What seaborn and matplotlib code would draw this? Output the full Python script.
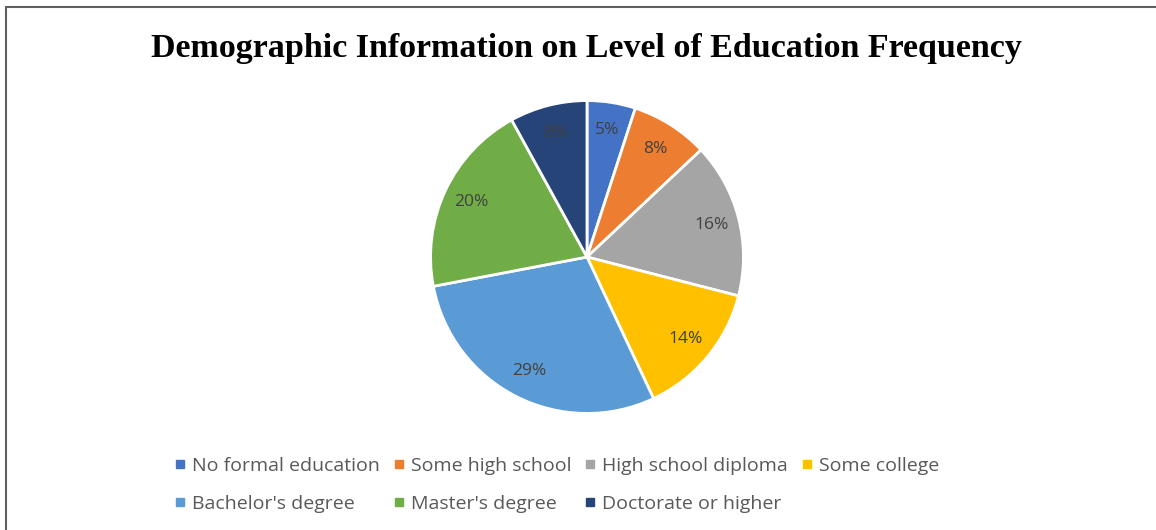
import matplotlib
matplotlib.use("Agg")
import matplotlib.pyplot as plt
from matplotlib.lines import Line2D
import seaborn as sns

# DATA
categories = ["No formal education", "Some high school", "High school diploma",
              "Some college", "Bachelor's degree", "Master's degree",
              "Doctorate or higher"]
shares = [5, 8, 16, 14, 29, 20, 8]
colors = ["#4472C4", "#ED7D31", "#A5A5A5", "#FFC000", "#5B9BD5", "#70AD47", "#264478"]
title = "Demographic Information on Level of Education Frequency"

sns.set_theme(style="white")
plt.rcParams["font.family"] = ["Open Sans", "DejaVu Sans"]

W, H = 1156, 530
fig = plt.figure(figsize=(W / 100, H / 100), dpi=100)
fig.patch.set_facecolor("white")

# frame lines (top + left) like the screenshot
fig.add_artist(Line2D([6 / W, 1], [1 - 7 / H, 1 - 7 / H], color="#606060", lw=1.5))
fig.add_artist(Line2D([6 / W, 6 / W], [0, 1 - 7 / H], color="#606060", lw=1.5))

# PIE
cx, cy, r = 587, 257, 158
ax = fig.add_axes([(cx - r) / W, (H - cy - r) / H, 2 * r / W, 2 * r / H])
wedges, texts, autotexts = ax.pie(
    shares, colors=colors, startangle=90, counterclock=False,
    autopct="%d%%", pctdistance=0.82,
    wedgeprops=dict(edgecolor="white", linewidth=2),
    textprops=dict(color="#404040", fontsize=12.5))
ax.set_xlim(-1.01, 1.01)
ax.set_ylim(-1.01, 1.01)

fig.text(586 / W, 1 - 48 / H, title, ha="center", va="center",
         fontsize=24.5, fontweight="bold", family=["Liberation Serif"], color="black")

# LEGEND (row-major order across 4 columns)
handles = [Line2D([], [], marker="s", ls="", markersize=6, color=c) for c in colors]
order = [0, 4, 1, 5, 2, 6, 3]
leg = fig.legend([handles[i] for i in order], [categories[i] for i in order],
                 ncol=4, loc="center", bbox_to_anchor=(557 / W, 1 - 485 / H),
                 frameon=False, fontsize=14, handlelength=0.55, handletextpad=0.35,
                 columnspacing=0.7, labelspacing=1.0, labelcolor="#595959")

plt.savefig("out.png", dpi=100)
